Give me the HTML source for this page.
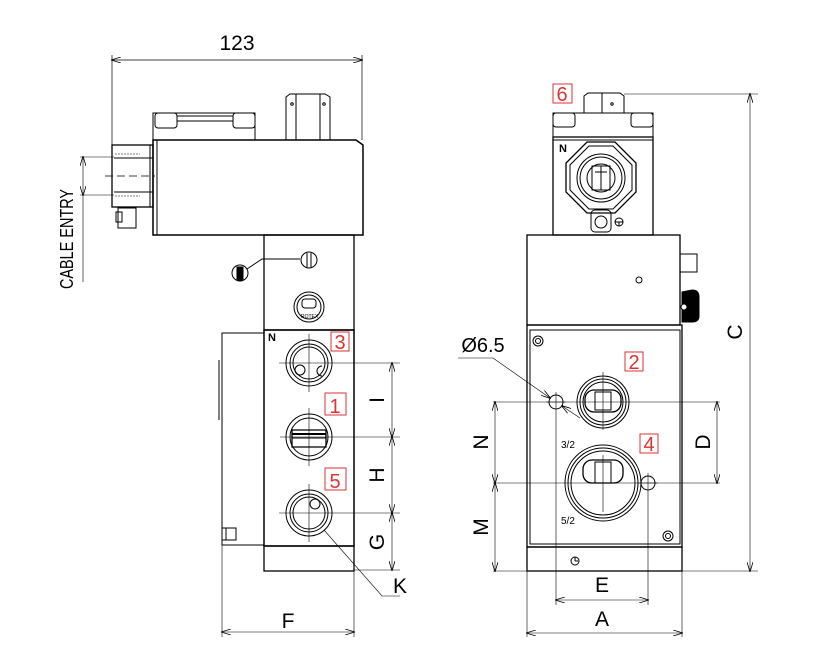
<!DOCTYPE html>
<html><head><style>
html,body{margin:0;padding:0;background:#fff;}
svg{display:block;font-family:"Liberation Sans",sans-serif;}
</style></head><body>
<svg width="816" height="672" viewBox="0 0 816 672" xmlns="http://www.w3.org/2000/svg">
<defs>
<marker id="ar" markerWidth="10" markerHeight="6" refX="9" refY="3" orient="auto-start-reverse" markerUnits="userSpaceOnUse"><path d="M0,0 L10,3 L0,6" fill="none" stroke="#000" stroke-width="0.8"/></marker>
</defs>
<g fill="none" stroke="#000" stroke-width="1">
<line x1="112" y1="55" x2="112" y2="150" stroke-width="0.7"/>
<line x1="362" y1="55" x2="362" y2="140" stroke-width="0.7"/>
<line x1="112" y1="60" x2="362" y2="60" stroke-width="0.7" marker-start="url(#ar)" marker-end="url(#ar)"/>
<path d="M286,97 L290,94 L325,94 L330,97 L330,140 L286,140 Z" stroke-width="1"/>
<line x1="296" y1="94" x2="296" y2="140"/><line x1="320" y1="94" x2="320" y2="140"/>
<circle cx="292" cy="104" r="1.3"/><circle cx="324" cy="104" r="1.3"/>
<rect x="153" y="113" width="102" height="27"/>
<rect x="155" y="113" width="22" height="15" rx="3"/>
<rect x="233" y="113" width="22" height="15" rx="3"/>
<line x1="177" y1="116" x2="233" y2="116"/><line x1="177" y1="121" x2="233" y2="121"/>
<path d="M153,140 L356,140 L363,145 L363,235 L153,235 Z" stroke-width="1.5"/>
<line x1="157" y1="140" x2="157" y2="235"/>
<rect x="112" y="145" width="41" height="62" stroke-width="1.3"/>
<line x1="114" y1="158" x2="153" y2="158"/><line x1="114" y1="192" x2="153" y2="192"/>
<line x1="150" y1="145" x2="150" y2="207"/>
<line x1="115" y1="154" x2="140" y2="154" stroke-dasharray="2,1" stroke-width="0.6"/>
<line x1="115" y1="196" x2="140" y2="196" stroke-dasharray="2,1" stroke-width="0.6"/>
<line x1="105" y1="176" x2="155" y2="176" stroke-dasharray="8,4" stroke-width="0.7"/>
<rect x="118" y="208" width="18" height="20"/><rect x="116" y="212" width="6" height="10"/>
<line x1="80" y1="157" x2="114" y2="157" stroke-width="0.6"/>
<line x1="80" y1="195" x2="114" y2="195" stroke-width="0.6"/>
<line x1="83" y1="157" x2="83" y2="195" stroke-width="0.6" marker-start="url(#ar)" marker-end="url(#ar)"/>
<line x1="83" y1="195" x2="83" y2="282" stroke-width="0.6"/>
<rect x="264" y="235" width="90" height="95" stroke-width="1.3"/>
<circle cx="240" cy="273" r="8"/><rect x="237" y="267" width="6" height="13" fill="#000"/>
<path d="M247,269 L262,259 L300,259"/>
<circle cx="309" cy="260" r="8"/><line x1="307" y1="253" x2="307" y2="267"/><line x1="311" y1="253" x2="311" y2="267"/>
<circle cx="309" cy="307" r="15"/><circle cx="309" cy="307" r="12"/>
<rect x="302" y="299" width="14" height="9" rx="3"/>
<rect x="222" y="333" width="42" height="212"/>
<line x1="219" y1="360" x2="219" y2="420"/>
<rect x="222" y="528" width="14" height="12"/><line x1="226" y1="528" x2="226" y2="540"/>
<rect x="264" y="330" width="90" height="216" stroke-width="1.5"/>
<rect x="264" y="546" width="90" height="25" stroke-width="1.3"/>
<circle cx="309" cy="363" r="23"/><circle cx="309" cy="363" r="19"/><circle cx="309" cy="363" r="16"/>
<circle cx="300" cy="370" r="5"/><path d="M322,366 a5,5 0 0,0 0,10"/>
<circle cx="309" cy="437" r="23"/><circle cx="309" cy="437" r="19"/>
<path d="M292,430 L326,430 L326,447 L292,447 Z" stroke-width="1.3"/>
<line x1="292" y1="434" x2="326" y2="434" stroke-width="2"/><line x1="292" y1="438" x2="326" y2="438"/>
<circle cx="309" cy="513" r="23"/><circle cx="309" cy="513" r="19"/><circle cx="309" cy="513" r="16"/>
<circle cx="315" cy="504" r="5"/>
<g stroke-width="0.6">
<line x1="309" y1="334" x2="309" y2="392"/><line x1="279" y1="363" x2="400" y2="363"/>
<line x1="309" y1="408" x2="309" y2="466"/><line x1="280" y1="437" x2="400" y2="437"/>
<line x1="309" y1="484" x2="309" y2="542"/><line x1="279" y1="513" x2="400" y2="513"/>
<line x1="354" y1="570" x2="400" y2="570"/>
<line x1="392" y1="363" x2="392" y2="437" marker-start="url(#ar)" marker-end="url(#ar)"/>
<line x1="392" y1="437" x2="392" y2="513" marker-start="url(#ar)" marker-end="url(#ar)"/>
<line x1="392" y1="513" x2="392" y2="570" marker-start="url(#ar)" marker-end="url(#ar)"/>
<path d="M324,530 L382,596 L400,596"/>
<line x1="222" y1="545" x2="222" y2="637"/><line x1="354" y1="571" x2="354" y2="637"/>
<line x1="222" y1="632" x2="354" y2="632" marker-start="url(#ar)" marker-end="url(#ar)"/>
</g>

<path d="M584,96 L588,93 L620,93 L624,96 L624,113 L584,113 Z"/>
<line x1="602" y1="93" x2="602" y2="113"/><circle cx="612" cy="104" r="1.2"/>
<rect x="553" y="113" width="100" height="24"/>
<rect x="553" y="113" width="22" height="14" rx="3"/><rect x="631" y="113" width="22" height="14" rx="3"/>
<rect x="553" y="137" width="100" height="98" stroke-width="1.3"/>
<line x1="553" y1="140" x2="653" y2="140"/>
<path d="M587,142 L615,142 L636,163 L636,192 L615,213 L587,213 L566,192 L566,163 Z" stroke-width="1.3"/>
<path d="M589,146 L613,146 L632,165 L632,190 L613,209 L589,209 L570,190 L570,165 Z"/>
<circle cx="601" cy="178" r="24"/><circle cx="601" cy="178" r="21"/>
<circle cx="601" cy="178" r="14"/>
<rect x="592" y="166" width="18" height="24"/><line x1="601" y1="166" x2="601" y2="190"/><line x1="595" y1="172" x2="607" y2="172"/>
<rect x="591" y="210" width="20" height="22" rx="4"/><circle cx="601" cy="222" r="6"/>
<circle cx="619" cy="222" r="4"/><line x1="615" y1="222" x2="623" y2="222"/><line x1="619" y1="222" x2="619" y2="226"/>
<rect x="527" y="235" width="153" height="90" stroke-width="1.3"/>
<rect x="680" y="254" width="17" height="18"/>
<path d="M682,292 L692,290 Q699,290 699,297 L699,316 Q699,322 692,322 L682,322 Z" fill="#000"/>
<circle cx="684" cy="307" r="3" fill="#fff"/>
<circle cx="639" cy="280" r="3"/>
<rect x="527" y="325" width="155" height="222" stroke-width="1.3"/>
<rect x="530" y="330" width="150" height="214"/>
<circle cx="538" cy="341" r="5"/><circle cx="538" cy="341" r="2.5"/>
<circle cx="668" cy="536" r="5"/><circle cx="668" cy="536" r="2.5"/>
<rect x="527" y="547" width="155" height="24" stroke-width="1.3"/>
<circle cx="575" cy="561" r="4"/><line x1="575" y1="557" x2="575" y2="561"/><line x1="575" y1="561" x2="578" y2="561"/>
<circle cx="603" cy="402" r="26"/><circle cx="603" cy="402" r="23"/><circle cx="603" cy="402" r="20"/>
<rect x="585" y="390" width="36" height="22" rx="9" stroke-width="1.3"/>
<rect x="595" y="392" width="16" height="18"/>
<circle cx="603" cy="483" r="38"/><circle cx="603" cy="483" r="35"/><circle cx="603" cy="483" r="32"/>
<rect x="583" y="460" width="40" height="23" rx="9" stroke-width="1.3"/>
<rect x="595" y="462" width="16" height="21"/>
<circle cx="556" cy="402" r="7"/><circle cx="648" cy="483" r="7"/>
<g stroke-width="0.6">
<line x1="556" y1="392" x2="556" y2="412"/><line x1="546" y1="402" x2="566" y2="402"/>
<line x1="648" y1="473" x2="648" y2="493"/><line x1="638" y1="483" x2="658" y2="483"/>
<line x1="603" y1="372" x2="603" y2="430"/><line x1="603" y1="455" x2="603" y2="512"/>
<line x1="493" y1="402" x2="720" y2="402"/><line x1="493" y1="483" x2="720" y2="483"/>
<line x1="493" y1="571" x2="758" y2="571"/>
<line x1="624" y1="94" x2="758" y2="94"/>
<line x1="750" y1="94" x2="750" y2="571" marker-start="url(#ar)" marker-end="url(#ar)"/>
<line x1="495" y1="402" x2="495" y2="483" marker-start="url(#ar)" marker-end="url(#ar)"/>
<line x1="495" y1="483" x2="495" y2="571" marker-start="url(#ar)" marker-end="url(#ar)"/>
<line x1="717" y1="402" x2="717" y2="483" marker-start="url(#ar)" marker-end="url(#ar)"/>
<line x1="556" y1="412" x2="556" y2="605"/><line x1="648" y1="493" x2="648" y2="605"/>
<line x1="556" y1="600" x2="648" y2="600" marker-start="url(#ar)" marker-end="url(#ar)"/>
<line x1="527" y1="571" x2="527" y2="637"/><line x1="682" y1="571" x2="682" y2="637"/>
<line x1="527" y1="633" x2="682" y2="633" marker-start="url(#ar)" marker-end="url(#ar)"/>
<path d="M458,358 L493,358 L550,398" marker-end="url(#ar)"/>
<line x1="562" y1="406" x2="580" y2="418" marker-start="url(#ar)"/>
</g>
</g>
<g fill="none" stroke="#d33" stroke-width="1">
<rect x="331" y="332" width="18" height="19"/>
<rect x="325" y="393" width="21" height="22"/>
<rect x="325" y="468" width="21" height="22"/>
<rect x="625" y="352" width="18" height="19"/>
<rect x="640" y="434" width="18" height="19"/>
<rect x="553" y="84" width="19" height="19"/>
</g>
<g fill="#d33" font-size="20" text-anchor="middle">
<text x="340" y="349">3</text><text x="335" y="413">1</text><text x="335" y="488">5</text>
<text x="634" y="369">2</text><text x="649" y="451">4</text><text x="562" y="101">6</text>
</g>
<g fill="#000" font-size="21" text-anchor="middle">
<text x="237" y="50">123</text>
<text x="288" y="628">F</text>
<text x="400" y="593">K</text>
<text x="602" y="592">E</text>
<text x="602" y="626">A</text>
<text x="483" y="352" font-size="20">Ø6.5</text>
<text transform="translate(384,400) rotate(-90)">I</text>
<text transform="translate(384,475) rotate(-90)">H</text>
<text transform="translate(384,542) rotate(-90)">G</text>
<text transform="translate(488,442) rotate(-90)">N</text>
<text transform="translate(488,527) rotate(-90)">M</text>
<text transform="translate(710,442) rotate(-90)">D</text>
<text transform="translate(742,332) rotate(-90)">C</text>
<text transform="translate(73,239) rotate(-90)" font-size="18" textLength="100" lengthAdjust="spacingAndGlyphs">CABLE ENTRY</text>
</g>
<g fill="#000" font-size="11" font-weight="bold">
<text x="268" y="341">N</text><text x="559" y="152">N</text>
</g>
<g fill="#000" font-size="10">
<text x="561" y="448">3/2</text><text x="561" y="524">5/2</text>
<text x="301" y="318" font-size="5">ROTEX</text>
</g>
</svg>
</body></html>
